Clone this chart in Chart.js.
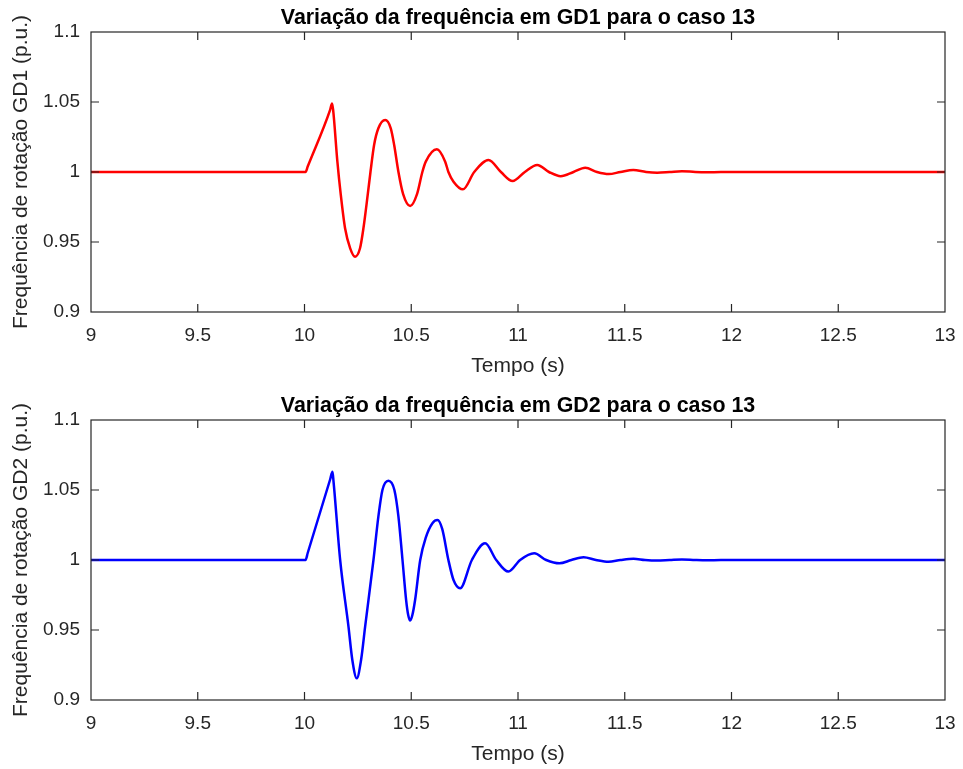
<!DOCTYPE html>
<html>
<head>
<meta charset="utf-8">
<script src="https://cdn.jsdelivr.net/npm/chart.js@4/dist/chart.umd.min.js"></script>
<style>
  body { margin: 0; background: #fff; }
  .box { position: absolute; left: 0; width: 963px; }
</style>
</head>
<body>
<div class="box" style="top:0px;height:384px"><canvas id="gd1" width="963" height="384"></canvas></div>
<div class="box" style="top:388px;height:381px"><canvas id="gd2" width="963" height="381"></canvas></div>
<script>
// eixos
const xTicks = [9, 9.5, 10, 10.5, 11, 11.5, 12, 12.5, 13];
const yTicks = [0.9, 0.95, 1, 1.05, 1.1];

// GD1
const gd1Time = [9, 10.005, 10.015, 10.12, 10.129, 10.134, 10.154, 10.17, 10.19, 10.214, 10.237, 10.26, 10.276,
  10.296, 10.309, 10.326, 10.346, 10.378, 10.404, 10.42, 10.44, 10.462, 10.495, 10.527, 10.552, 10.568, 10.62,
  10.659, 10.674, 10.698, 10.742, 10.795, 10.862, 10.92, 10.975, 11.032, 11.09, 11.145, 11.2,
  11.26, 11.315, 11.37, 11.425, 11.48, 11.54, 11.6, 11.652, 11.71, 11.768, 11.83, 11.885, 11.95, 13];
const gd1Freq = [1, 1, 1.0039, 1.0444, 1.049, 1.0445, 1.0074, 0.9836, 0.9598, 0.9455, 0.9395, 0.9455, 0.9598,
  0.9836, 1.0, 1.0193, 1.0312, 1.0371, 1.0312, 1.0193, 1.0, 0.9842, 0.9757, 0.9842, 1.0, 1.0074, 1.0162,
  1.0074, 1.0, 0.9931, 0.9876, 1.0, 1.0086, 1.0, 0.9935, 1.0, 1.005, 1.0, 0.997,
  1.0, 1.003, 1.0, 0.9985, 1.0, 1.0014, 1.0, 0.9995, 1.0, 1.0006, 1.0, 0.9998, 1.0, 1];

// GD2
const gd2Time = [9, 10.005, 10.015, 10.12, 10.131, 10.136, 10.167, 10.206, 10.224, 10.245, 10.265, 10.284, 10.323,
  10.346, 10.365, 10.393, 10.421, 10.44, 10.459, 10.476, 10.486, 10.495, 10.505, 10.518, 10.542, 10.568, 10.6, 10.623,
  10.645, 10.674, 10.698, 10.729, 10.784, 10.846, 10.898, 10.955, 11.01, 11.076, 11.132, 11.194,
  11.25, 11.307, 11.365, 11.424, 11.48, 11.541, 11.595, 11.65, 11.71, 11.768, 11.83, 11.885, 11.95, 13];
const gd2Freq = [1, 1, 1.005, 1.0575, 1.063, 1.056, 1.0, 0.9524, 0.9286, 0.9155, 0.9286, 0.9524, 1.0,
  1.031, 1.05, 1.0566, 1.05, 1.031, 1.0, 0.9714, 0.9605, 0.9567, 0.9605, 0.9714, 1.0, 1.016, 1.0265, 1.0286,
  1.0222, 1.0, 0.9857, 0.9798, 1.0, 1.0119, 1.0, 0.9917, 1.0, 1.0048, 1.0, 0.9976,
  1.0, 1.0019, 1.0, 0.9987, 1.0, 1.0009, 1.0, 0.9996, 1.0, 1.0004, 1.0, 0.9998, 1.0, 1];

const FONT = "'Liberation Sans', Arial, Helvetica, sans-serif";
const AXC = '#262626';

// caixa estilo MATLAB com ticks para dentro + título centrado no eixo
const matlabBox = {
  id: 'matlabBox',
  afterDraw(chart) {
    const {ctx, chartArea: a, scales: {x, y}} = chart;
    const L = 8;
    ctx.save();
    ctx.strokeStyle = AXC;
    ctx.lineWidth = 1.2;
    ctx.strokeRect(a.left, a.top, a.right - a.left, a.bottom - a.top);
    ctx.beginPath();
    xTicks.slice(1, -1).forEach(v => {
      const px = x.getPixelForValue(v);
      ctx.moveTo(px, a.bottom); ctx.lineTo(px, a.bottom - L);
      ctx.moveTo(px, a.top); ctx.lineTo(px, a.top + L);
    });
    yTicks.slice(1, -1).forEach(v => {
      const py = y.getPixelForValue(v);
      ctx.moveTo(a.left, py); ctx.lineTo(a.left + L, py);
      ctx.moveTo(a.right, py); ctx.lineTo(a.right - L, py);
    });
    ctx.stroke();
    const t = chart.options.plugins.matlabBox.title;
    ctx.fillStyle = '#000';
    ctx.font = 'bold 21.4px ' + FONT;
    ctx.textAlign = 'center';
    ctx.textBaseline = 'middle';
    ctx.fillText(t, (a.left + a.right) / 2, a.top - 14);
    ctx.restore();
  }
};

function makeChart(id, times, freqs, color, gd, xHeight, xTitlePad) {
  const pts = times.map((t, i) => ({x: t, y: freqs[i]}));
  return new Chart(document.getElementById(id), {
    type: 'line',
    data: {
      datasets: [{
        data: pts,
        borderColor: color,
        borderWidth: 2.5,
        pointRadius: 0,
        fill: false,
        cubicInterpolationMode: 'monotone'
      }]
    },
    options: {
      responsive: false,
      animation: false,
      layout: { padding: { left: 0, right: 18, top: 32, bottom: 0 } },
      plugins: {
        legend: { display: false },
        tooltip: { enabled: false },
        title: { display: false },
        matlabBox: { title: 'Variação da frequência em ' + gd + ' para o caso 13' }
      },
      scales: {
        x: {
          type: 'linear',
          min: 9, max: 13,
          afterBuildTicks: s => { s.ticks = xTicks.map(v => ({value: v})); },
          afterFit: s => { s.height = xHeight; s.paddingLeft = 0; s.paddingRight = 0; },
          grid: { display: false, drawTicks: false },
          border: { display: false },
          ticks: {
            color: AXC, padding: 12, maxRotation: 0, autoSkip: false,
            font: { family: FONT, size: 19 },
            callback: v => String(v)
          },
          title: {
            display: true, text: 'Tempo (s)', color: AXC,
            font: { family: FONT, size: 21, lineHeight: 1.2 },
            padding: { top: 0, bottom: xTitlePad }
          }
        },
        y: {
          min: 0.9, max: 1.1,
          afterBuildTicks: s => { s.ticks = yTicks.map(v => ({value: v})); },
          afterFit: s => { s.width = 91; s.paddingTop = 0; s.paddingBottom = 0; },
          grid: { display: false, drawTicks: false },
          border: { display: false },
          ticks: {
            color: AXC, padding: 11, autoSkip: false,
            font: { family: FONT, size: 19 },
            callback: v => String(v)
          },
          title: {
            display: true, text: 'Frequência de rotação ' + gd + ' (p.u.)', color: AXC,
            font: { family: FONT, size: 21, lineHeight: 1.2 },
            padding: { top: 8.4, bottom: 0 }
          }
        }
      }
    },
    plugins: [matlabBox]
  });
}

makeChart('gd1', gd1Time, gd1Freq, '#ff0000', 'GD1', 72, 5.4);
makeChart('gd2', gd2Time, gd2Freq, '#0000ff', 'GD2', 69, 2.4);
</script>
</body>
</html>
